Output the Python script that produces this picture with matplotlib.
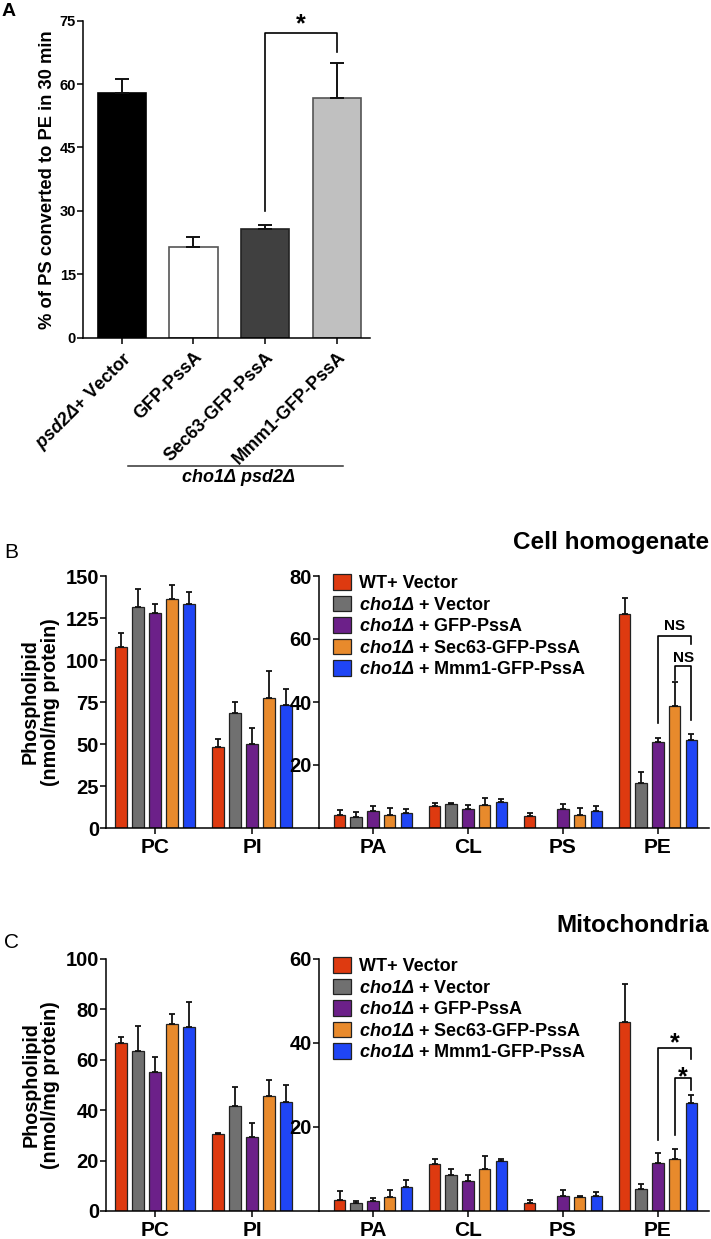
import numpy as np
import matplotlib
matplotlib.use("Agg")
import matplotlib.pyplot as plt
from matplotlib.lines import Line2D

plt.rcParams['font.family'] = ['Liberation Sans', 'DejaVu Sans']
plt.rcParams['font.weight'] = 'bold'
plt.rcParams['axes.labelweight'] = 'bold'
plt.rcParams['mathtext.fontset'] = 'custom'
# everything inside $...$ is the italic gene name (digits and Δ too)
plt.rcParams['mathtext.it'] = 'Liberation Sans:italic:bold'
plt.rcParams['mathtext.rm'] = 'Liberation Sans:italic:bold'
plt.rcParams['mathtext.bf'] = 'Liberation Sans:italic:bold'
plt.rcParams['axes.linewidth'] = 1.1

# ---- data ----
# panel A : % PS -> PE
a_labels = [r'$psd2Δ$+ Vector', 'GFP-PssA', 'Sec63-GFP-PssA', 'Mmm1-GFP-PssA']
a_mean = [58.0, 21.4, 25.8, 56.6]
a_sem = [3.1, 2.5, 0.9, 8.3]
a_colors = ['#000000', '#ffffff', '#404040', '#c0c0c0']

strains = ['WT+ Vector', r'$cho1Δ$ + Vector', r'$cho1Δ$ + GFP-PssA',
           r'$cho1Δ$ + Sec63-GFP-PssA', r'$cho1Δ$ + Mmm1-GFP-PssA']
strain_colors = ['#de3a10', '#707070', '#6c2089', '#e88a2c', '#1f45f5']

major_lipids = ['PC', 'PI']
minor_lipids = ['PA', 'CL', 'PS', 'PE']

# panel B : cell homogenate (rows = lipid, cols = strain)
b_major_mean = [[108.0, 131.8, 128.2, 136.1, 133.1],
                [48.0, 68.4, 49.9, 77.1, 73.3]]
b_major_sem = [[8.3, 10.7, 4.9, 8.7, 7.4],
               [4.9, 6.7, 9.5, 16.2, 9.3]]
b_minor_mean = [[4.2, 3.5, 5.5, 4.2, 4.8],
                [7.1, 7.7, 6.1, 7.4, 8.1],
                [3.9, np.nan, 6.1, 4.2, 5.5],
                [68.0, 14.3, 27.2, 38.6, 27.8]]
b_minor_sem = [[1.4, 1.5, 1.6, 2.1, 1.2],
               [0.8, 0.2, 1.3, 2.1, 1.1],
               [0.9, np.nan, 1.6, 2.1, 1.6],
               [5.1, 3.4, 1.3, 7.9, 2.2]]

# panel C : mitochondria
c_major_mean = [[66.6, 63.3, 55.0, 74.2, 73.2],
                [30.4, 41.7, 29.3, 45.7, 43.4]]
c_major_sem = [[2.3, 10.2, 6.0, 4.1, 9.6],
               [0.5, 7.4, 5.5, 6.1, 6.7]]
c_minor_mean = [[2.7, 1.8, 2.5, 3.3, 5.6],
                [11.1, 8.5, 7.2, 9.9, 11.9],
                [2.0, np.nan, 3.6, 3.3, 3.5],
                [44.9, 5.3, 11.5, 12.3, 25.6]]
c_minor_sem = [[2.0, 0.5, 0.6, 1.6, 1.7],
               [1.2, 1.4, 1.3, 3.2, 0.6],
               [0.7, np.nan, 1.3, 0.3, 1.0],
               [9.2, 1.2, 2.4, 2.5, 2.0]]

W, H = 711, 1239
fig = plt.figure(figsize=(W / 100, H / 100), dpi=100)


def box(x0, y0, x1, y1):
    # pixel box -> figure fraction [left, bottom, width, height]
    return [x0 / W, 1 - y1 / H, (x1 - x0) / W, (y1 - y0) / H]


def style(ax):
    ax.spines['top'].set_visible(False)
    ax.spines['right'].set_visible(False)
    ax.tick_params(axis='y', direction='out', length=4, width=1.1, pad=1)
    ax.tick_params(axis='x', direction='out', length=4, width=1.1)


def bold_ticks(ax):
    for t in ax.get_xticklabels() + ax.get_yticklabels():
        t.set_fontweight('bold')


def grouped(ax, groups, means, sems):
    means = np.array(means, dtype=float)
    sems = np.array(sems, dtype=float)
    x = np.arange(len(groups))
    step, width = 0.176, 0.122
    for j in range(len(strains)):
        xs = x + (j - 2) * step
        err = np.vstack([np.zeros(len(groups)), sems[:, j]])
        ax.bar(xs, means[:, j], width, color=strain_colors[j], edgecolor='#222222',
               linewidth=0.9, yerr=err, capsize=2.5, label=strains[j],
               error_kw=dict(elinewidth=1.3, capthick=1.3, ecolor='#111111'))
    ax.set_xticks(x)
    ax.set_xticklabels(groups, fontsize=15)
    ax.tick_params(axis='x', pad=3)


def bracket(ax, x0, x1, ytop, yl, yr, **kw):
    ax.plot([x0, x0, x1, x1], [yl, ytop, ytop, yr], color='black', lw=1.2,
            clip_on=False, **kw)


# ---------------- panel A ----------------
axA = fig.add_axes(box(83, 20.7, 370, 337.7))
xa = np.arange(len(a_mean))
axA.bar(xa, a_mean, 0.67, color=a_colors, edgecolor=['#000000', '#555555', '#222222', '#555555'],
        linewidth=1.2, yerr=[np.zeros(4), a_sem], capsize=5,
        error_kw=dict(elinewidth=1.4, capthick=1.4, ecolor='#111111'))
style(axA)
axA.set_xlim(-0.54, 3.46)
axA.set_ylim(0, 75)
axA.set_yticks([0, 15, 30, 45, 60, 75])
axA.tick_params(axis='y', labelsize=10.5)
axA.set_xticks(xa)
axA.set_xticklabels(a_labels, rotation=45, ha='right', rotation_mode='anchor', fontsize=13)
axA.tick_params(axis='x', pad=4)
bold_ticks(axA)
axA.set_ylabel('% of PS converted to PE in 30 min', fontsize=13.2, labelpad=3)
bracket(axA, 2, 3, 72.2, 30.0, 67.5)
axA.text(2.5, 72.6, '*', ha='center', va='baseline', fontsize=18)
fig.add_artist(Line2D([128 / W, 343 / W], [1 - 466 / H, 1 - 466 / H], color='#333333', lw=1.1))
fig.text(238 / W, 1 - 478 / H, r'$cho1Δ\ psd2Δ$', ha='center', va='center', fontsize=13)
fig.text(2 / W, 1 - 12 / H, 'A', fontsize=14, va='center', ha='left')


# ---------------- panels B and C ----------------
def panel(ytop, ybot, title, ytitle, letter, yletter, major_mean, major_sem, lmax, lstep,
          minor_mean, minor_sem, rmax, rticks):
    axL = fig.add_axes(box(106, ytop, 319, ybot))
    grouped(axL, major_lipids, major_mean, major_sem)
    style(axL)
    axL.set_xlim(-0.505, 1.691)
    axL.set_ylim(0, lmax)
    axL.set_yticks(np.arange(0, lmax + 1, lstep))
    axL.tick_params(axis='y', labelsize=14.5)
    bold_ticks(axL)
    axL.set_ylabel('Phospholipid\n(nmol/mg protein)', fontsize=14.2, labelpad=4, linespacing=1.05)

    axR = fig.add_axes(box(319, ytop, 709, ybot))
    grouped(axR, minor_lipids, minor_mean, minor_sem)
    style(axR)
    axR.set_xlim(-0.568, 3.537)
    axR.set_ylim(0, rmax)
    axR.set_yticks(rticks)
    axR.tick_params(axis='y', labelsize=14.5)
    bold_ticks(axR)
    axR.legend(loc='upper left', bbox_to_anchor=(333 / W, 1 - (ytop - 2) / H),
               bbox_transform=fig.transFigure, frameon=False, fontsize=13,
               handlelength=1.0, handleheight=0.95, handletextpad=0.45,
               labelspacing=0.2, borderpad=0, borderaxespad=0)
    fig.text(709 / W, 1 - ytitle / H, title, ha='right', va='center', fontsize=17.5)
    fig.text(4 / W, 1 - yletter / H, letter, ha='left', va='center', fontsize=15,
             fontweight='normal')
    return axR


axBR = panel(576, 828, 'Cell homogenate', 542, 'B', 553,
             b_major_mean, b_major_sem, 150, 25, b_minor_mean, b_minor_sem, 80, [20, 40, 60, 80])
st = 0.176
bracket(axBR, 3, 3 + 2 * st, 61.1, 33.3, 58.4)
axBR.text(3 + st, 64.0, 'NS', ha='center', va='center', fontsize=11)
bracket(axBR, 3 + st, 3 + 2 * st, 51.3, 47.0, 34.4)
axBR.text(3 + 1.5 * st, 54.1, 'NS', ha='center', va='center', fontsize=11)

axCR = panel(959, 1211, 'Mitochondria', 925, 'C', 942,
             c_major_mean, c_major_sem, 100, 20, c_minor_mean, c_minor_sem, 60, [20, 40, 60])
bracket(axCR, 3, 3 + 2 * st, 38.9, 16.9, 36.2)
axCR.text(3 + st, 40.0, '*', ha='center', va='center', fontsize=18)
bracket(axCR, 3 + st, 3 + 2 * st, 31.6, 18.1, 28.8)
axCR.text(3 + 1.5 * st, 31.8, '*', ha='center', va='center', fontsize=18)

fig.savefig('out.png', dpi=100)
